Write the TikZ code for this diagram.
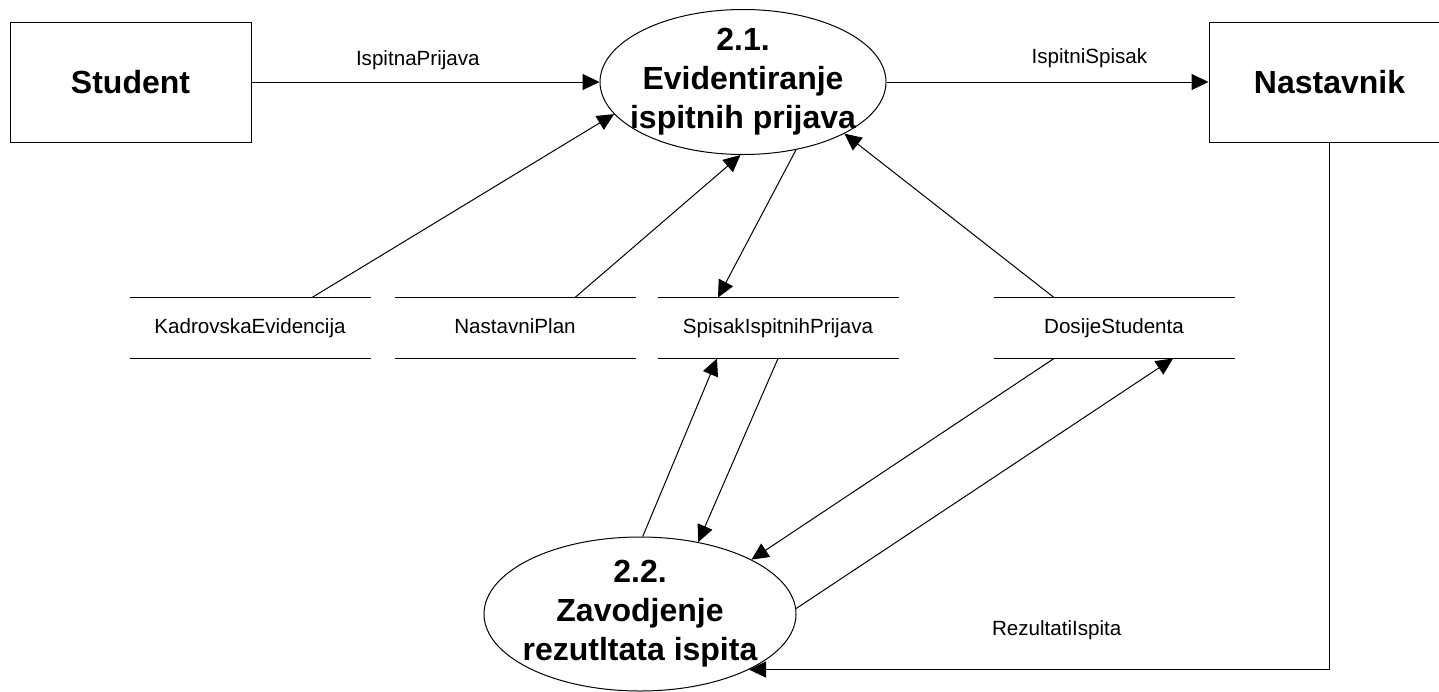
\documentclass[tikz,border=0pt]{standalone}
\usepackage{fontspec}
\setmainfont{Liberation Sans}
\usetikzlibrary{shapes.geometric,arrows.meta}

\tikzset{
  entity/.style={draw,minimum width=120.5pt,minimum height=60pt,font=\bfseries\fontsize{16}{19.5}\selectfont},
  proc/.style={draw,ellipse,inner sep=0pt},
  proctext/.style={align=center,font=\bfseries\fontsize{16}{19.5}\selectfont},
  store/.style={minimum width=120pt,minimum height=30pt,inner sep=0pt,text height=7.6pt,text depth=2pt,font=\fontsize{10.3}{12}\selectfont},
  flow/.style={-{Triangle[length=8.5pt,width=8pt]}},
  lbl/.style={text height=7.6pt,text depth=2pt,font=\fontsize{10.3}{12}\selectfont}
}

\begin{document}
\begin{tikzpicture}[x=0.5pt,y=-0.5pt,line width=0.5pt]
\clip (0,0) rectangle (1439,691);
% entities
\node[entity] (stud) at (130.5,82) {Student};
\node[entity] (nast) at (1329.5,82) {Nastavnik};
% processes
\node[proc,minimum width=143pt,minimum height=72.5pt] (p1) at (743,82) {};
\node[proctext] (p1t) at (p1.center) {2.1.\\Evidentiranje\\ispitnih prijava};
\node[proc,minimum width=156pt,minimum height=77pt] (p2) at (640,614) {};
\node[proctext] (p2t) at (p2.center) {2.2.\\Zavodjenje\\rezutltata ispita};
% stores
\node[store] (kadr) at (250,328) {KadrovskaEvidencija};
\node[store] (plan) at (515,328) {NastavniPlan};
\node[store] (spis) at (778,328) {SpisakIspitnihPrijava};
\node[store] (dos) at (1114,328) {DosijeStudenta};
\foreach \s in {kadr,plan,spis,dos}
  \draw (\s.north west) -- (\s.north east) (\s.south west) -- (\s.south east);
% flows
\draw[flow] (stud) -- node[lbl,pos=.478,yshift=11pt] (f1) {IspitnaPrijava} (p1);
\draw[flow] (p1) -- node[lbl,pos=.63,yshift=12pt] (f2) {IspitniSpisak} (nast);
\draw[flow] ([xshift=31pt]kadr.north) -- (p1.194);
\draw[flow] ([xshift=30pt]plan.north) -- (p1.268);
\draw[flow] (p1.308) -- ([xshift=-30pt]spis.north);
\draw[flow] ([xshift=-30pt]dos.north) -- (p1.333);
\draw[flow] (spis.south) -- (p2.51);
\draw[flow] (p2.88) -- ([xshift=-30.5pt]spis.south);
\draw[flow] ([xshift=-30pt]dos.south) -- (p2.26);
\draw[flow] (p2.2) -- ([xshift=29.5pt]dos.south);
\draw[flow] (nast.south) |- node[lbl,pos=.735,yshift=20pt] (f3) {RezultatiIspita} (p2.333);
\end{tikzpicture}
\end{document}
